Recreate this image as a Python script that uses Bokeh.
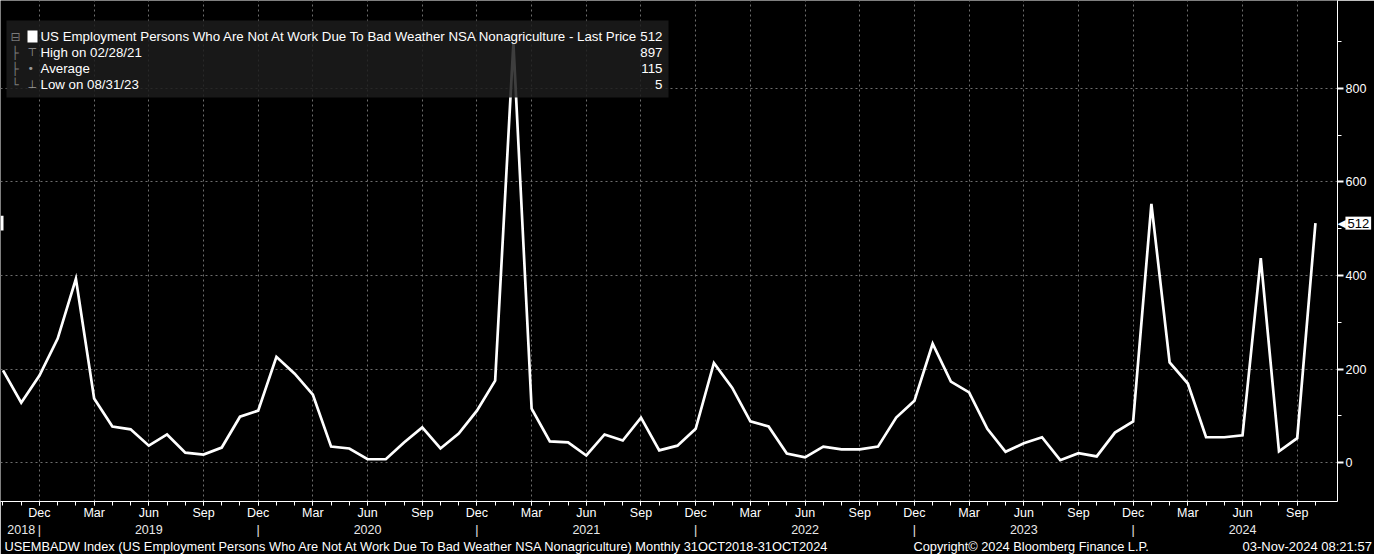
from bokeh.plotting import figure
from bokeh.models import Range1d, FixedTicker, LinearAxis, Label, BoxAnnotation
from bokeh.core.properties import value
from bokeh.embed import file_html
from bokeh.resources import INLINE

# ---- data (monthly, Oct 2018 .. Oct 2024) ----
month_index = list(range(73))
values = [197, 128, 186, 265, 393, 137, 77, 71, 36, 60, 21, 17, 32,
          98, 111, 226, 190, 145, 34, 30, 7, 7, 43, 75, 30,
          62, 111, 175, 897, 115, 45, 43, 15, 60, 47, 96, 26,
          36, 72, 213, 160, 88, 77, 19, 11, 34, 28, 28, 34,
          96, 132, 254, 173, 150, 72, 23, 41, 54, 5, 20, 13,
          64, 88, 553, 214, 169, 54, 54, 58, 437, 24, 52, 512]

month_tick_pos = list(range(2, 72, 3))
month_tick_labels = ["Dec", "Mar", "Jun", "Sep"] * 6
year_tick_pos = [1, 2, 8, 14, 20, 26, 32, 38, 44, 50, 56, 62, 68]
year_tick_labels = ["2018", "|", "2019", "|", "2020", "|", "2021", "|", "2022", "|", "2023", "|", "2024"]
y_ticks = [0, 200, 400, 600, 800]
y_minor = [100, 300, 500, 700, 900]

legend_rows = ["US Employment Persons Who Are Not At Work Due To Bad Weather NSA Nonagriculture - Last Price",
               "High on 02/28/21", "Average", "Low on 08/31/23"]
legend_vals = ["512", "897", "115", "5"]
last_value = values[-1]

footer_texts = ["USEMBADW Index (US Employment Persons Who Are Not At Work Due To Bad Weather NSA Nonagriculture)  Monthly 31OCT2018-31OCT2024",
                "Copyright\u00a9 2024 Bloomberg Finance L.P.",
                "03-Nov-2024 08:21:57"]

FONT = "Liberation Sans"
W, H = 1374, 554
BOTTOM = 53
RIGHT = 37
FH = H - BOTTOM  # frame height

x0, x1 = -0.137, 73.21
y0, y1 = -83.4, 988.2
p = figure(width=W, height=H, output_backend="svg", toolbar_location=None,
           x_range=Range1d(x0, x1), y_range=Range1d(y0, y1),
           y_axis_location="right", min_border_left=0, min_border_top=0,
           min_border_right=RIGHT, min_border_bottom=BOTTOM)
p.background_fill_color = "black"
p.border_fill_color = "black"
p.outline_line_color = None

p.line(month_index, values, line_color="white", line_width=2.7, line_join="miter")

# x axis (months)
xa = p.xaxis[0]
xa.ticker = FixedTicker(ticks=month_tick_pos, minor_ticks=month_index)
xa.major_label_overrides = {t: l for t, l in zip(month_tick_pos, month_tick_labels)}
xa.axis_line_color = "white"
xa.major_tick_line_color = "white"
xa.minor_tick_line_color = "white"
xa.major_tick_in = 0
xa.major_tick_out = 4
xa.minor_tick_in = 0
xa.minor_tick_out = 4
xa.major_label_standoff = 0
xa.major_label_text_color = "white"
xa.major_label_text_font = FONT
xa.major_label_text_font_size = "12.5px"

# year axis
ya2 = LinearAxis(ticker=FixedTicker(ticks=year_tick_pos, minor_ticks=[]),
                 major_label_overrides={t: l for t, l in zip(year_tick_pos, year_tick_labels)})
ya2.axis_line_color = None
ya2.major_tick_line_color = None
ya2.major_tick_out = 0
ya2.major_tick_in = 0
ya2.major_label_standoff = 0
ya2.major_label_text_color = "#e8e8e8"
ya2.major_label_text_font = FONT
ya2.major_label_text_font_size = "12.5px"
p.add_layout(ya2, "below")

# right y axis
ya = p.yaxis[0]
ya.ticker = FixedTicker(ticks=y_ticks, minor_ticks=y_minor)
ya.axis_line_color = "white"
ya.major_tick_line_color = "white"
ya.minor_tick_line_color = "white"
ya.major_tick_in = 0
ya.major_tick_out = 6
ya.major_tick_line_width = 2
ya.minor_tick_in = 0
ya.minor_tick_out = 4
ya.major_label_standoff = 2
ya.major_label_text_color = "white"
ya.major_label_text_font = FONT
ya.major_label_text_font_size = "12.5px"

# grids
p.xgrid[0].ticker = FixedTicker(ticks=month_tick_pos)
p.xgrid[0].grid_line_color = "#6e6e6e"
p.xgrid[0].grid_line_dash = "2 3"
p.ygrid[0].ticker = FixedTicker(ticks=y_ticks)
p.ygrid[0].grid_line_color = "#6e6e6e"
p.ygrid[0].grid_line_dash = "2 3"

# legend box (screen units relative to frame, y from bottom)
def sy(fig_y):
    return FH - fig_y

p.add_layout(BoxAnnotation(left=6, right=668, top=sy(20), bottom=sy(97),
                           left_units="screen", right_units="screen",
                           top_units="screen", bottom_units="screen",
                           fill_color="#1c1c1c", fill_alpha=0.85, line_color=None))
p.add_layout(BoxAnnotation(left=27, right=37, top=sy(30), bottom=sy(42),
                           left_units="screen", right_units="screen",
                           top_units="screen", bottom_units="screen",
                           fill_color="white", fill_alpha=1, line_color=None))
row_y = [36, 52, 68, 84]
for ic, ix, ry in zip(["\u229f", "\u251c", "\u251c", "\u2514"], [10, 11, 11, 11], row_y):
    p.add_layout(Label(x=ix, y=sy(ry), x_units="screen", y_units="screen", text=ic,
                       text_color="#7a7a7a", text_font="DejaVu Sans", text_font_size="12px",
                       text_baseline="middle"))
for ic, ry in zip(["\u22a4", "\u2022", "\u22a5"], row_y[1:]):
    p.add_layout(Label(x=27, y=sy(ry), x_units="screen", y_units="screen", text=ic,
                       text_color="#9a9a9a", text_font="DejaVu Sans", text_font_size="11px",
                       text_baseline="middle"))
for txt, val, ry in zip(legend_rows, legend_vals, row_y):
    p.add_layout(Label(x=40, y=sy(ry), x_units="screen", y_units="screen", text=txt,
                       text_color="white", text_font=FONT, text_font_size="13.3px",
                       text_baseline="middle"))
    p.add_layout(Label(x=662, y=sy(ry), x_units="screen", y_units="screen", text=val,
                       text_color="white", text_font=FONT, text_font_size="13.3px",
                       text_baseline="middle", text_align="right"))

# left edge marker at last value
p.add_layout(BoxAnnotation(left=0, right=3, top=last_value + 16, bottom=last_value - 16,
                           left_units="screen", right_units="screen",
                           fill_color="white", fill_alpha=1, line_color=None))

# last value marker on the right axis (overlay level is not clipped to the frame)
p.text(x=[month_index[-1]], y=[last_value], text=["\u25c0"], x_offset=22,
       text_color="white", text_font=value("DejaVu Sans"), text_font_size="11px",
       text_baseline="middle", text_align="left", level="overlay")
p.text(x=[month_index[-1]], y=[last_value], text=[str(last_value)], x_offset=30,
       text_color="black", text_font=value(FONT), text_font_size="13px",
       text_baseline="middle", text_align="left", level="overlay",
       background_fill_color="white", padding=2)

# footer row, placed in pixels from the frame's bottom-left corner
p.text(x=[x0, x0, x0], y=[y0, y0, y0], text=footer_texts,
       x_offset=[4, 913, 1242], y_offset=45,
       text_font_size=["12.8px", "12.8px", "13px"],
       text_color="white", text_font=value(FONT),
       text_baseline="middle", text_align="left", level="overlay")

open("out.html", "w").write(file_html(p, INLINE))
